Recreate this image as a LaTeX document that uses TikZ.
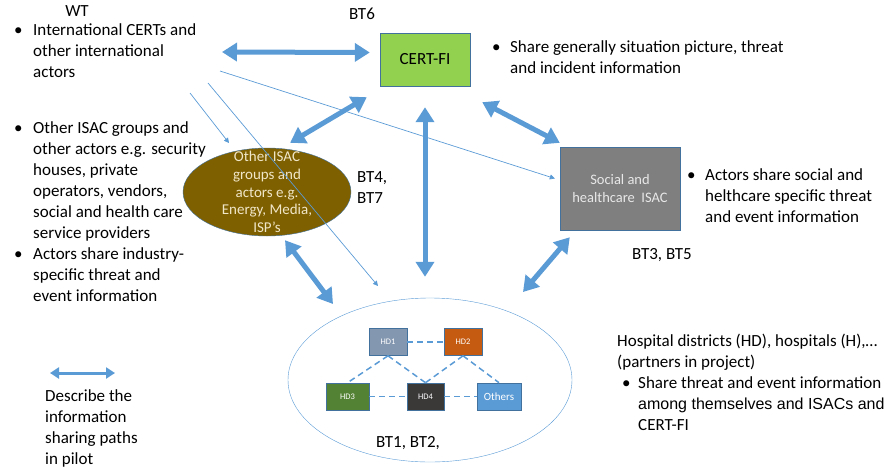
\documentclass[tikz,border=0pt]{standalone}
\usepackage{fontspec}
\setmainfont{Carlito}
\newfontfamily\arialfont{Liberation Sans}
\usepackage{tikz}
\usetikzlibrary{arrows.meta,shapes.geometric}
\definecolor{arrowblue}{HTML}{5B9BD5}
\definecolor{edgeblue}{HTML}{41719C}
\definecolor{certgreen}{HTML}{92D050}
\definecolor{isacbrown}{HTML}{7F6000}
\definecolor{isactext}{HTML}{F0E6C8}
\definecolor{socgray}{HTML}{7F7F7F}
\definecolor{soctext}{HTML}{E8E8E8}
\definecolor{hdslate}{HTML}{8497B0}
\definecolor{hdorange}{HTML}{C55A11}
\definecolor{hdgreen}{HTML}{548235}
\definecolor{hddark}{HTML}{3B3838}

\begin{document}
\begin{tikzpicture}[x=1pt,y=-1pt,
  txt/.style={inner sep=0pt, font=\fontsize{17}{21}\selectfont},
  bigarrow/.style={arrowblue, line width=5pt, {Triangle[width=18pt,length=15pt]}-{Triangle[width=18pt,length=15pt]}},
  legarrow/.style={arrowblue, line width=3pt, {Triangle[width=11pt,length=9pt]}-{Triangle[width=11pt,length=9pt]}},
  thinarrow/.style={arrowblue, line width=0.7pt, -{Triangle[width=5pt,length=5pt]}},
  hdbox/.style={draw=edgeblue, line width=0.6pt, minimum height=27pt, inner sep=0pt, text=white, font=\fontsize{8.5}{10}\selectfont},
  hdlink/.style={arrowblue, line width=1.5pt, dash pattern=on 6pt off 4pt},
  isactxt/.style={inner sep=0pt, align=center, text=isactext, font=\fontsize{15}{17.8}\selectfont}]
  \useasboundingbox (0,0) rectangle (894,472);

  % 左側のテキスト
  \node[txt] (wt) at (77,11) {WT};
  \node[txt, anchor=north west] (intl) at (14,21) {\begin{tabular}{@{}p{19pt}@{}l@{}}
    \textbullet & International CERTs and\\ & other international\\ & actors\end{tabular}};
  \node[txt, anchor=north west] (others) at (14,119) {\begin{tabular}{@{}p{19pt}@{}l@{}}
    \textbullet & Other ISAC groups and\\ & other actors e.g. security\\ & houses, private\\
    & operators, vendors,\\ & social and health care\\ & service providers\\
    \textbullet & Actors share industry-\\ & specific threat and\\ & event information\end{tabular}};

  % 中心のノード
  \node[txt, draw=edgeblue, fill=certgreen, minimum width=90pt, minimum height=53pt] (certfi) at (425,59.5) {CERT-FI};
  \node[txt] (bt6) at (362,14) {BT6};
  \node[txt, anchor=north west] (certinfo) at (492,38) {\begin{tabular}{@{}p{18pt}@{}l@{}}
    \textbullet & Share generally situation picture, threat\\ & and incident information\end{tabular}};

  \node[ellipse, draw=edgeblue, fill=isacbrown, minimum width=168pt, minimum height=88pt, inner sep=0pt,
    label={[isactxt]center:{Other ISAC\\groups and\\actors e.g.\\Energy, Media,\\ISP’s}}] (oisac) at (267,192) {};
  \node[txt, anchor=north west] (bt47) at (357,168) {\begin{tabular}{@{}l@{}}BT4,\\BT7\end{tabular}};

  \node[draw=edgeblue, fill=socgray, minimum width=120pt, minimum height=83pt, inner sep=0pt, align=center,
    text=soctext, font=\fontsize{14.5}{18}\selectfont] (social) at (620,188.5) {Social and\\healthcare\ \ ISAC};
  \node[txt, anchor=north west] (socinfo) at (687,166) {\begin{tabular}{@{}p{18pt}@{}l@{}}
    \textbullet & Actors share social and\\ & helthcare specific threat\\ & and event information\end{tabular}};
  \node[txt] (bt35) at (662,255) {BT3, BT5};

  % 病院のエリア
  \node[ellipse, draw=arrowblue, minimum width=284pt, minimum height=164pt] (hdarea) at (430,380) {};
  \node[hdbox, fill=hdslate, minimum width=38pt] (hd1) at (388,342) {HD1};
  \node[hdbox, fill=hdorange, minimum width=38pt] (hd2) at (463,342) {HD2};
  \node[hdbox, fill=hdgreen, minimum width=43pt] (hd3) at (347.5,396.5) {HD3};
  \node[hdbox, fill=hddark, minimum width=37pt] (hd4) at (425.5,396.5) {HD4};
  \node[hdbox, fill=arrowblue, minimum width=44pt, font=\fontsize{11}{12}\selectfont] (hdo) at (499,396.5) {Others};
  \node[txt] (bt12) at (408,443) {BT1, BT2,};

  \draw[hdlink] (hd1) -- (hd2);
  \draw[hdlink] (hd1.south) -- (hd3.north);
  \draw[hdlink] (hd1.south) -- (hd4.north);
  \draw[hdlink] (hd2.south) -- (hd4.north);
  \draw[hdlink] (hd2.south) -- (hdo.north);
  \draw[hdlink] (hd3) -- (hd4);
  \draw[hdlink] (hd4) -- (hdo);

  \node[txt, anchor=north west] (hdinfo) at (617,332) {\begin{tabular}{@{}p{21pt}@{}l@{}}
    \multicolumn{2}{@{}l@{}}{Hospital districts (HD), hospitals (H),\dots}\\
    \multicolumn{2}{@{}l@{}}{(partners in project)}\\
    \hspace*{5pt}\textbullet & Share threat and event information\\
    & {\arialfont\fontsize{16}{21}\selectfont among themselves and ISACs and}\\
    & CERT-FI\end{tabular}};

  % 情報共有の矢印
  \coordinate (intl-r) at (222,52);
  \draw[bigarrow] (intl-r) -- ([shift={(-10,-7)}]certfi.west);
  \draw[bigarrow] ([shift={(23,-5)}]oisac.north) -- ([shift={(-13,11)}]certfi.south west);
  \draw[bigarrow] ([shift={(0,21)}]certfi.south) -- ([shift={(-5,-21)}]hdarea.north);
  \draw[bigarrow] ([shift={(12,16)}]certfi.south east) -- ([shift={(0,-4)}]social.north west);
  \draw[bigarrow] ([shift={(10,7)}]social.south west) -- ([shift={(93,-88)}]hdarea.center);
  \draw[bigarrow] ([shift={(18,4)}]oisac.south) -- ([shift={(-97,-76)}]hdarea.center);

  % 国際的な流れ
  \coordinate (intl-a) at (220,71);
  \coordinate (intl-b) at (190,93);
  \coordinate (intl-c) at (208,83);
  \draw[thinarrow] (intl-a) -- ([shift={(-5,-10)}]social.west);
  \draw[thinarrow] (intl-b) -- ([shift={(-38,-49)}]oisac.center);
  \draw[thinarrow] (intl-c) -- ([shift={(-52,-94)}]hdarea.center);

  % 凡例
  \coordinate (leg-l) at (50,373);
  \coordinate (leg-r) at (115,373);
  \draw[legarrow] (leg-l) -- (leg-r);
  \node[txt, anchor=north west] (legend) at (45,387) {\begin{tabular}{@{}l@{}}
    Describe the\\information\\sharing paths\\in pilot\end{tabular}};
\end{tikzpicture}
\end{document}
